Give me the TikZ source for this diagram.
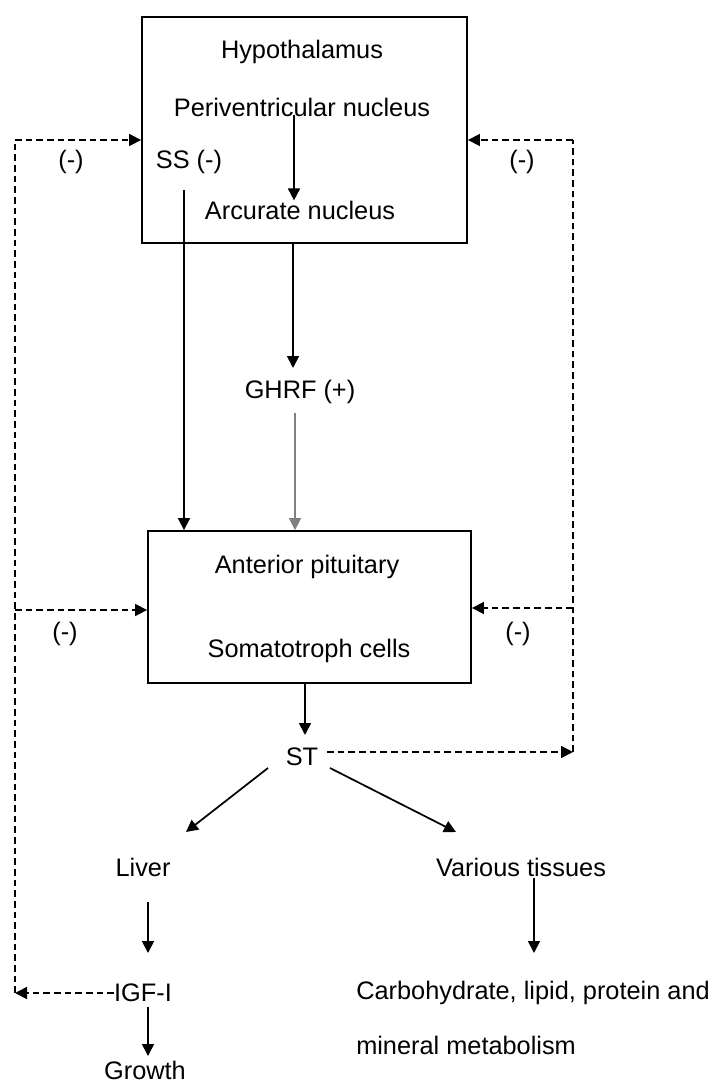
\documentclass[tikz,border=0pt]{standalone}
\usepackage{fontspec}
\setmainfont{Liberation Sans}
\usetikzlibrary{arrows.meta,fit,calc}
\begin{document}
\begin{tikzpicture}[x=0.75pt,y=-0.75pt,
  txt/.style={inner sep=0pt,font=\fontsize{19}{23}\selectfont},
  boxnode/.style={draw,line width=1.4pt,inner sep=0pt},
  arr/.style={line width=1.3pt,-{Triangle[length=9pt,width=9pt]}},
  dsh/.style={line width=1.3pt,dash pattern=on 5pt off 3pt},
  darr/.style={dsh,-{Triangle[length=9pt,width=9pt]}}]
\useasboundingbox (0,0) rectangle (714,1084);
% boxes
\node[boxnode,fit={(142,17) (467,243)}] (hypo) {};
\node[boxnode,fit={(148,531) (471,683)}] (pit) {};
% texts
\node[txt] (hyp) at (302,52) {Hypothalamus};
\node[txt] (peri) at (302,107) {Periventricular nucleus};
\node[txt] (ss) at (189,162) {SS (-)};
\node[txt] (arc) at (300,210) {Arcurate nucleus};
\node[txt] (ghrf) at (300,392) {GHRF (+)};
\node[txt] (ant) at (307,567) {Anterior pituitary};
\node[txt] (soma) at (309,651) {Somatotroph cells};
\node[txt] (st) at (302,757) {ST};
\node[txt] (liver) at (143,867) {Liver};
\node[txt] (var) at (521,867) {Various tissues};
\node[txt] (igf) at (143,993) {IGF-I};
\node[txt] (growth) at (145,1070) {Growth};
\node[txt,anchor=west] (carb) at (356,993) {Carbohydrate, lipid, protein and};
\node[txt,anchor=west] (mineral) at (356,1045) {mineral metabolism};
\node[txt] (m1) at (71,162) {(-)};
\node[txt] (m2) at (522,162) {(-)};
\node[txt] (m3) at (65,634) {(-)};
\node[txt] (m4) at (518,634) {(-)};
% feedback corners
\coordinate (L1) at (15,140);
\coordinate (Lm) at (15,610);
\coordinate (L2) at (15,993);
\coordinate (R1) at (573,140);
\coordinate (Rm) at (573,608);
\coordinate (R2) at (573,752);
% solid arrows
\draw[arr] ([shift={(-8,8)}]peri.center) coordinate (p1) -- (p1 |- arc.north);
\draw[arr] ([shift={(-5,28)}]ss.center) coordinate (s1) -- (s1 |- pit.north);
\draw[arr] ([xshift=-8.6pt]hypo.south) -- ([shift={(-7,-24)}]ghrf.center);
\draw[arr,draw=gray] ([shift={(-5,21)}]ghrf.center) coordinate (g1) -- (g1 |- pit.north);
\draw[arr] ([xshift=-3.4pt]pit.south) -- ([shift={(3,-22)}]st.center);
\draw[arr] ([shift={(-34,11)}]st.center) -- ([shift={(43,-35)}]liver.center);
\draw[arr] ([shift={(28,11)}]st.center) -- ([shift={(-65,-35)}]var.center);
\draw[arr] ([shift={(5,35)}]liver.center) -- ([shift={(5,-40)}]igf.center);
\draw[arr] ([shift={(5,14)}]igf.center) -- ([shift={(3,-14)}]growth.center);
\draw[arr] ([shift={(13,11)}]var.center) -- ([shift={(178,-40)}]carb.west);
% dashed feedback
\draw[darr] (igf.west) -- (L2);
\draw[dsh] (L2) -- (L1);
\draw[darr] (L1) -- (L1 -| hypo.west);
\draw[darr] (Lm) -- (Lm -| pit.west);
\draw[darr] ([shift={(25,-5)}]st.center) -- (R2);
\draw[dsh] (R2) -- (R1);
\draw[darr] (R1) -- (R1 -| hypo.east);
\draw[darr] (Rm) -- (Rm -| pit.east);
\end{tikzpicture}
\end{document}
